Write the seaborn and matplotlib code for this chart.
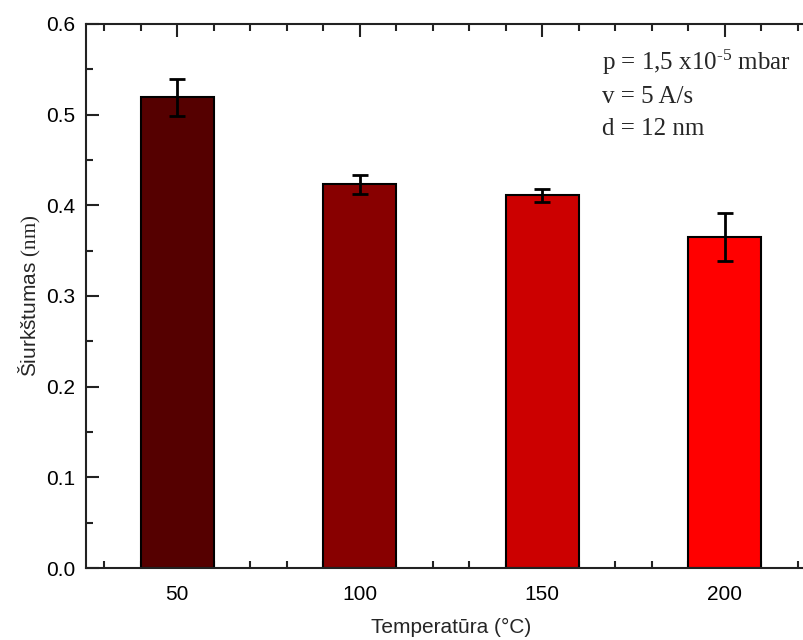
import matplotlib
matplotlib.use("Agg")
import matplotlib.pyplot as plt
import seaborn as sns
import pandas as pd
from matplotlib.ticker import MultipleLocator, FormatStrFormatter

# data
temps = [50, 100, 150, 200]
roughness = [0.519, 0.423, 0.411, 0.365]
errors = [0.020, 0.010, 0.007, 0.026]
bar_colors = ["#550000", "#880000", "#cc0000", "#ff0000"]

df = pd.DataFrame({"T": temps, "R": roughness})

sns.set_style("ticks")
plt.rcParams["font.family"] = ["Liberation Sans", "DejaVu Sans"]
plt.rcParams["mathtext.fontset"] = "custom"
plt.rcParams["mathtext.rm"] = "Liberation Serif"
plt.rcParams["mathtext.it"] = "Liberation Serif:italic"

fig = plt.figure(figsize=(8.04, 6.4), dpi=100)
ax = fig.add_axes([0.107, 0.1125, 0.907, 0.85])

sns.barplot(data=df, x="T", y="R", hue="T", palette=bar_colors,
            native_scale=True, width=0.4, saturation=1, legend=False,
            edgecolor="black", linewidth=1.5, ax=ax, zorder=2)
ax.errorbar(temps, roughness, yerr=errors, fmt="none", ecolor="black",
            elinewidth=2, capsize=6, capthick=2, zorder=3)

ax.set_xlim(25, 224.8)
ax.set_ylim(0, 0.6)
ax.set_xticks(temps)
ax.set_xticklabels([str(t) for t in temps])
ax.xaxis.set_minor_locator(MultipleLocator(10))
ax.yaxis.set_major_locator(MultipleLocator(0.1))
ax.yaxis.set_minor_locator(MultipleLocator(0.05))
ax.yaxis.set_major_formatter(FormatStrFormatter("%.1f"))

ax.tick_params(which="both", direction="in", top=True, right=True,
               width=1.5, colors="#222222", labelcolor="black")
ax.tick_params(which="major", length=9, labelsize=15)
ax.tick_params(axis="x", which="major", pad=12)
ax.tick_params(axis="y", which="major", pad=8)
ax.tick_params(which="minor", length=5)
for s in ax.spines.values():
    s.set_linewidth(1.5)
    s.set_color("#222222")

ax.set_xlabel("Temperatūra (°C)", fontsize=15, labelpad=10)
ax.set_ylabel(r"Šiurkštumas $\mathrm{(nm)}$", fontsize=15, labelpad=2)

serif = ["Liberation Serif", "DejaVu Serif"]
ax.text(0.707, 0.915, r"p = 1,5 x10$^{\text{-5}}$ mbar", transform=ax.transAxes,
        fontsize=18, family=serif, va="baseline")
ax.text(0.707, 0.854, "v = 5 A/s", transform=ax.transAxes,
        fontsize=18, family=serif, va="baseline")
ax.text(0.707, 0.796, "d = 12 nm", transform=ax.transAxes,
        fontsize=18, family=serif, va="baseline")

fig.savefig("out.png", dpi=100)
